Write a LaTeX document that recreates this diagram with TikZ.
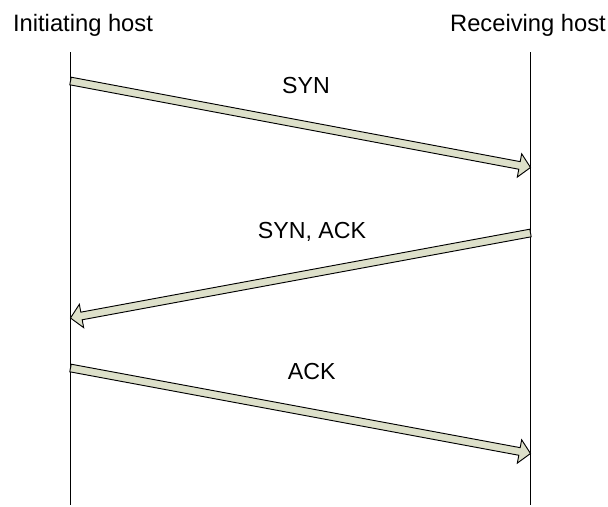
\documentclass[tikz,border=0pt]{standalone}
\usepackage{fontspec}
\setmainfont{Liberation Sans}
\usetikzlibrary{calc}
\definecolor{arrowfill}{RGB}{221,224,202}
\tikzset{
  lifeline/.style={draw=black, line width=0.8pt},
  hostlabel/.style={font=\fontsize{17.8pt}{20pt}\selectfont, anchor=base, inner sep=0pt},
  msglabel/.style={font=\fontsize{17.4pt}{20pt}\selectfont, anchor=base, inner sep=0pt},
  blockarrow/.style={draw=black, fill=arrowfill, line width=0.7pt, line join=miter},
}
% block arrow from tail #1 to tip #2
\newcommand\blockarr[2]{%
  \coordinate (h) at ($(#2)!8.4pt!(#1)$);
  \path[blockarrow]
    ($(#1)!2.9pt!90:(#2)$) -- ($(h)!2.9pt!-90:(#1)$) -- ($(h)!8.9pt!-90:(#1)$)
    -- (#2) -- ($(h)!8.9pt!90:(#1)$) -- ($(h)!2.9pt!90:(#1)$)
    -- ($(#1)!2.9pt!-90:(#2)$) -- cycle;
}
\begin{document}
\begin{tikzpicture}[x=0.75pt,y=-0.75pt]
  \useasboundingbox (0,0) rectangle (608,507);

  % host titles
  \node[hostlabel] (init) at (83,31.7) {Initiating host};
  \node[hostlabel] (recv) at (528,31.7) {Receiving host};

  % lifelines
  \coordinate (itop) at (70.5,52);
  \coordinate (ibot) at (70.5,505);
  \coordinate (rtop) at (530.5,52);
  \coordinate (rbot) at (530.5,505);
  \draw[lifeline] (itop) -- (ibot);
  \draw[lifeline] (rtop) -- (rbot);

  % message end points on the lifelines
  \coordinate (s1) at (70.5,81);
  \coordinate (e1) at (530.5,167.5);
  \coordinate (s2) at (530.5,233);
  \coordinate (e2) at (70.5,318);
  \coordinate (s3) at (70.5,368);
  \coordinate (e3) at (530.5,453.5);

  % messages
  \blockarr{s1}{e1}
  \blockarr{s2}{e2}
  \blockarr{s3}{e3}

  % message labels
  \node[msglabel] (syn) at (306,93.3) {SYN};
  \node[msglabel] (synack) at (312,238.3) {SYN, ACK};
  \node[msglabel] (ack) at (311.7,379.3) {ACK};
\end{tikzpicture}
\end{document}
